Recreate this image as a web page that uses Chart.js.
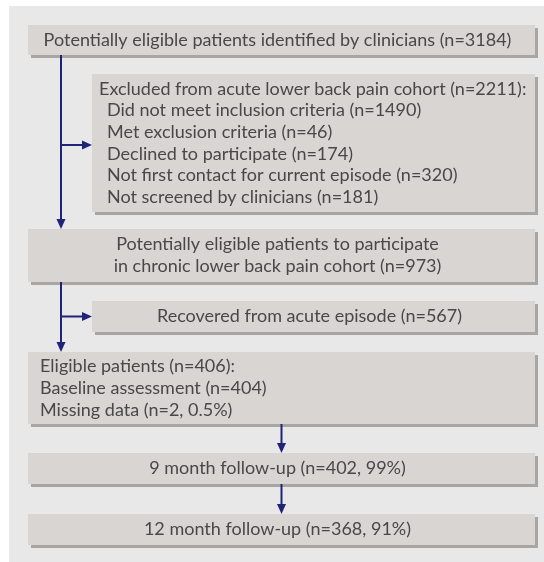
<!DOCTYPE html>
<html>
<head>
<meta charset="utf-8">
<script src="https://cdn.jsdelivr.net/npm/chart.js@4/dist/chart.umd.min.js"></script>
<style>
  html, body { margin: 0; padding: 0; background: #fff; }
  canvas { display: block; }
</style>
</head>
<body>
<canvas id="flowChart" width="544" height="562"></canvas>
<script>
// flow steps and their counts
var stepLabels = [
  'Potentially eligible patients identified by clinicians',
  'Excluded from acute lower back pain cohort',
  'Potentially eligible patients to participate\nin chronic lower back pain cohort',
  'Recovered from acute episode',
  'Eligible patients',
  '9 month follow-up',
  '12 month follow-up'
];
var stepCounts = [3184, 2211, 973, 567, 406, 402, 368];
var stepPercents = [null, null, null, null, null, 99, 91];

var exclusionReasons = [
  'Did not meet inclusion criteria',
  'Met exclusion criteria',
  'Declined to participate',
  'Not first contact for current episode',
  'Not screened by clinicians'
];
var exclusionCounts = [1490, 46, 174, 320, 181];

var eligibleLabels = ['Baseline assessment', 'Missing data'];
var eligibleCounts = [404, 2];
var eligiblePercents = [null, 0.5];

// layout (pixels of the 544x562 canvas)
var boxLeft   = [28, 92, 28, 92, 28, 28, 28];
var boxRight  = [535, 535, 535, 535, 535, 535, 535];
var boxTop    = [25, 74, 229, 301, 352, 453, 514];
var boxBottom = [55, 212, 282, 332, 424, 484, 545];
var boxAlign  = ['center', 'left', 'center', 'center', 'left', 'center', 'center'];

var boxColor = '#d9d5d3';
var shadowColor = '#a9a5a3';
var panelColor = '#e8e8e8';
var arrowColor = '#1f2479';
var textColor = '#484848';
var fontSpec = '18px Lato';
var lineHeight = 21.7;

function nText(count, pct) {
  return '(n=' + count + (pct != null ? ', ' + pct + '%' : '') + ')';
}

// text lines for every box
var boxLines = stepLabels.map(function (label, i) {
  var parts = label.split('\n');
  parts[parts.length - 1] += ' ' + nText(stepCounts[i], stepPercents[i]);
  return parts.map(function (t) { return { text: t, indent: 0 }; });
});
boxLines[1][0].text += ':';
exclusionReasons.forEach(function (r, i) {
  boxLines[1].push({ text: r + ' ' + nText(exclusionCounts[i]), indent: 8 });
});
boxLines[4][0].text += ':';
eligibleLabels.forEach(function (l, i) {
  boxLines[4].push({ text: l + ' ' + nText(eligibleCounts[i], eligiblePercents[i]), indent: 0 });
});
var leftPad = [0, 7, 0, 0, 12, 0, 0];

var datasets = [];
stepLabels.forEach(function (l, i) {
  var h = boxBottom[i] - boxTop[i];
  var mid = (boxTop[i] + boxBottom[i]) / 2;
  datasets.push({
    type: 'bar', order: 0, grouped: false, barThickness: h,
    backgroundColor: boxColor, borderWidth: 0, inflateAmount: 0,
    data: [{ x: [boxLeft[i], boxRight[i]], y: mid }]
  });
  datasets.push({
    type: 'bar', order: 1, grouped: false, barThickness: h,
    backgroundColor: shadowColor, borderWidth: 0, inflateAmount: 0,
    data: [{ x: [boxLeft[i] + 3, boxRight[i] + 3], y: mid + 3 }]
  });
});

function arrow(ctx, x0, y0, x1, y1) {
  var ang = Math.atan2(y1 - y0, x1 - x0);
  var len = 10, hw = 4.5;
  ctx.strokeStyle = arrowColor;
  ctx.fillStyle = arrowColor;
  ctx.lineWidth = 2;
  ctx.beginPath();
  ctx.moveTo(x0, y0);
  ctx.lineTo(x1 - Math.cos(ang) * len, y1 - Math.sin(ang) * len);
  ctx.stroke();
  ctx.beginPath();
  ctx.moveTo(x1, y1);
  ctx.lineTo(x1 - Math.cos(ang) * len - Math.sin(ang) * hw, y1 - Math.sin(ang) * len + Math.cos(ang) * hw);
  ctx.lineTo(x1 - Math.cos(ang) * len + Math.sin(ang) * hw, y1 - Math.sin(ang) * len - Math.cos(ang) * hw);
  ctx.closePath();
  ctx.fill();
}

var flowPlugin = {
  id: 'flow',
  beforeDatasetsDraw: function (chart) {
    var ctx = chart.ctx, sx = chart.scales.x, sy = chart.scales.y;
    ctx.save();
    ctx.fillStyle = panelColor;
    ctx.fillRect(sx.getPixelForValue(9), sy.getPixelForValue(6),
      sx.getPixelForValue(544) - sx.getPixelForValue(9), sy.getPixelForValue(562) - sy.getPixelForValue(6));
    ctx.restore();
  },
  afterDatasetsDraw: function (chart) {
    var ctx = chart.ctx, sx = chart.scales.x, sy = chart.scales.y;
    ctx.save();
    // connectors
    var spineX = sx.getPixelForValue(61);
    arrow(ctx, spineX, sy.getPixelForValue(boxBottom[0]), spineX, sy.getPixelForValue(boxTop[2]));
    var b1 = (boxTop[1] + boxBottom[1]) / 2 + 2;
    arrow(ctx, spineX, sy.getPixelForValue(b1), sx.getPixelForValue(boxLeft[1]), sy.getPixelForValue(b1));
    arrow(ctx, spineX, sy.getPixelForValue(boxBottom[2]), spineX, sy.getPixelForValue(boxTop[4]));
    var b3 = (boxTop[3] + boxBottom[3]) / 2;
    arrow(ctx, spineX, sy.getPixelForValue(b3), sx.getPixelForValue(boxLeft[3]), sy.getPixelForValue(b3));
    var midX = sx.getPixelForValue((boxLeft[5] + boxRight[5]) / 2);
    arrow(ctx, midX, sy.getPixelForValue(boxBottom[4]), midX, sy.getPixelForValue(boxTop[5]));
    arrow(ctx, midX, sy.getPixelForValue(boxBottom[5]), midX, sy.getPixelForValue(boxTop[6]));

    // box text
    ctx.font = fontSpec;
    ctx.fillStyle = textColor;
    ctx.textBaseline = 'middle';
    boxLines.forEach(function (lines, i) {
      var top = sy.getPixelForValue(boxTop[i]);
      var bottom = sy.getPixelForValue(boxBottom[i]);
      var y0 = (top + bottom) / 2 - (lines.length - 1) * lineHeight / 2;
      lines.forEach(function (ln, k) {
        var yy = y0 + k * lineHeight;
        if (boxAlign[i] === 'center') {
          ctx.textAlign = 'center';
          ctx.fillText(ln.text, sx.getPixelForValue((boxLeft[i] + boxRight[i]) / 2 - 4), yy);
        } else {
          ctx.textAlign = 'left';
          ctx.fillText(ln.text, sx.getPixelForValue(boxLeft[i] + leftPad[i] + ln.indent), yy);
        }
      });
    });
    ctx.restore();
  }
};

var flowChart = new Chart(document.getElementById('flowChart').getContext('2d'), {
  type: 'bar',
  data: { datasets: datasets },
  options: {
    indexAxis: 'y',
    responsive: false,
    devicePixelRatio: 1,
    animation: false,
    layout: { padding: 0 },
    plugins: { legend: { display: false }, tooltip: { enabled: false } },
    scales: {
      x: { type: 'linear', min: 0, max: 544, display: false, offset: false },
      y: { type: 'linear', min: 0, max: 562, reverse: true, display: false, offset: false }
    }
  },
  plugins: [flowPlugin]
});
</script>
</body>
</html>
